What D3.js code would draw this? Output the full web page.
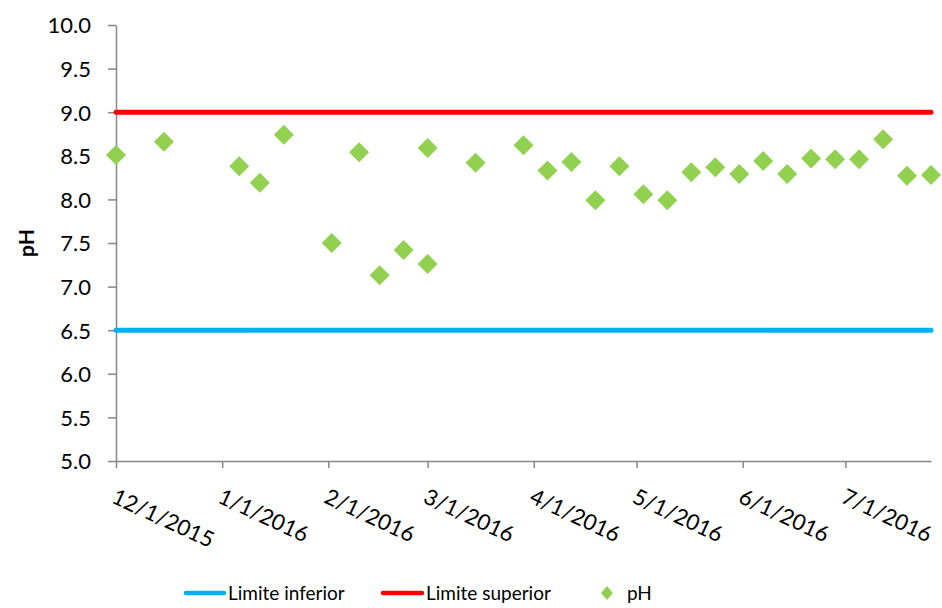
<!DOCTYPE html>
<html><head><meta charset="utf-8">
<script src="https://cdn.jsdelivr.net/npm/d3@7"></script>
<style>body{margin:0;background:#fff}svg{display:block}text{font-family:Lato,"Open Sans",sans-serif}</style>
</head><body><svg id="c" width="942" height="608"></svg>
<script>
const dates = ["2015-12-01","2015-12-15","2016-01-06","2016-01-12","2016-01-19","2016-02-02","2016-02-10","2016-02-16","2016-02-23","2016-03-01","2016-03-01","2016-03-15","2016-03-29","2016-04-05","2016-04-12","2016-04-19","2016-04-26","2016-05-03","2016-05-10","2016-05-17","2016-05-24","2016-05-31","2016-06-07","2016-06-14","2016-06-21","2016-06-28","2016-07-05","2016-07-12","2016-07-19","2016-07-26"];
const phValues = [8.51,8.66,8.38,8.19,8.74,7.50,8.54,7.13,7.42,7.26,8.59,8.42,8.62,8.33,8.43,7.99,8.38,8.06,7.99,8.31,8.37,8.29,8.44,8.29,8.47,8.46,8.46,8.69,8.27,8.28];
const limiteInferior = 6.5;
const limiteSuperior = 9.0;
const xTickLabels = ["2015-12-01","2016-01-01","2016-02-01","2016-03-01","2016-04-01","2016-05-01","2016-06-01","2016-07-01"];
const yTicks = [5.0,5.5,6.0,6.5,7.0,7.5,8.0,8.5,9.0,9.5,10.0];
const legendLabels = ["Limite inferior","Limite superior","pH"];

const parse = d3.utcParse("%Y-%m-%d");
const fmt = d3.utcFormat("%-m/%-d/%Y");
const svg = d3.select("#c");
const x = d3.scaleUtc().domain([parse("2015-12-01"), parse("2016-07-26")]).range([116, 931]);
const y = d3.scaleLinear().domain([5, 10]).range([461, 25]);
const axisColor = "#878787";

// Y axis
const ya = svg.append("g").attr("transform","translate(116,0)")
  .call(d3.axisLeft(y).tickValues(yTicks).tickFormat(d3.format(".1f")).tickSize(8).tickSizeOuter(0).tickPadding(17));
ya.select(".domain").attr("stroke", axisColor).attr("stroke-width",1.5);
ya.selectAll(".tick line").attr("stroke", axisColor).attr("stroke-width",1.5);
ya.selectAll(".tick text").attr("font-size",22).attr("fill","#000").attr("dy","0.36em");

// X axis
const xa = svg.append("g").attr("transform","translate(0,461)")
  .call(d3.axisBottom(x).tickValues(xTickLabels.map(parse)).tickFormat(fmt).tickSize(7).tickSizeOuter(0));
xa.select(".domain").attr("stroke", axisColor).attr("stroke-width",1.5);
xa.selectAll(".tick line").attr("stroke", axisColor).attr("stroke-width",1.5);
xa.selectAll(".tick text").attr("font-size",22).attr("fill","#000")
  .attr("text-anchor","start").attr("dy",0).attr("y",0)
  .attr("transform","translate(-6,41) rotate(25)");

// Y label
svg.append("text").attr("transform","translate(34,243) rotate(-90)")
  .attr("text-anchor","middle").attr("font-weight","bold").attr("font-size",21).text("pH");

// Limit lines
const [x0, x1] = x.domain();
svg.append("line").attr("x1",x(x0)).attr("x2",x(x1)).attr("y1",y(limiteInferior)).attr("y2",y(limiteInferior))
  .attr("stroke","#00B0F0").attr("stroke-width",5).attr("stroke-linecap","round");
svg.append("line").attr("x1",x(x0)).attr("x2",x(x1)).attr("y1",y(limiteSuperior)).attr("y2",y(limiteSuperior))
  .attr("stroke","#FF0000").attr("stroke-width",5).attr("stroke-linecap","round");

// Points
const diamond = "M0,-10L10,0L0,10L-10,0Z";
svg.append("g").selectAll("path").data(dates.map((d,i)=>({d:parse(d),v:phValues[i]})))
  .join("path").attr("d",diamond).attr("fill","#92D050")
  .attr("transform",p=>`translate(${x(p.d)},${y(p.v)})`);

// Legend
const lg = svg.append("g").attr("transform","translate(0,593)");
lg.append("line").attr("x1",186).attr("x2",224).attr("stroke","#00B0F0").attr("stroke-width",4.5).attr("stroke-linecap","round");
lg.append("text").attr("x",228).attr("dy","0.36em").attr("font-size",19).text(legendLabels[0]);
lg.append("line").attr("x1",383).attr("x2",422).attr("stroke","#FF0000").attr("stroke-width",4.5).attr("stroke-linecap","round");
lg.append("text").attr("x",426).attr("dy","0.36em").attr("font-size",19).text(legendLabels[1]);
lg.append("path").attr("d","M0,-7L6,0L0,7L-6,0Z").attr("fill","#92D050").attr("transform","translate(607,0)");
lg.append("text").attr("x",627).attr("dy","0.36em").attr("font-size",19).text(legendLabels[2]);
</script></body></html>
